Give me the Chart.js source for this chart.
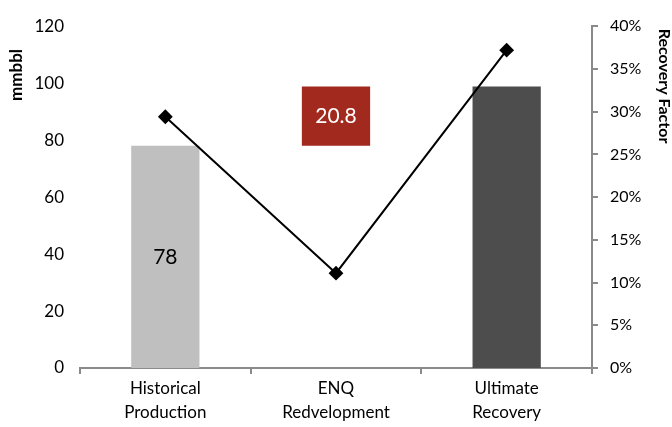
<!DOCTYPE html>
<html>
<head>
<meta charset="utf-8">
<script src="https://cdn.jsdelivr.net/npm/chart.js@4"></script>
<style>
  html, body { margin: 0; padding: 0; background: #ffffff; }
  #wrap { width: 672px; height: 427px; }
</style>
</head>
<body>
<div id="wrap"><canvas id="chart" width="672" height="427"></canvas></div>
<script>
// Waterfall of recoverable volumes (mmbbl) with recovery factor on the right axis
const categories = [["Historical", "Production"], ["ENQ", "Redvelopment"], ["Ultimate", "Recovery"]];
const historical = 78;
const redevelopment = 20.8;
const ultimate = 98.8;
const recoveryFactor = [29.4, 11.1, 37.2];
const leftTicks = [0, 20, 40, 60, 80, 100, 120];
const rightTicks = [0, 5, 10, 15, 20, 25, 30, 35, 40];

const barRanges = [[0, historical], [historical, historical + redevelopment], [0, ultimate]];
const barLabels = [String(historical), redevelopment.toFixed(1), null];
const barColors = ["#bfbfbf", "#a2291e", "#4d4d4d"];
const labelColors = ["#000000", "#ffffff", null];

const FONT = "Lato, 'Open Sans', sans-serif";
const AXIS_GRAY = "#8a8a8a";

// value labels centred inside the bars
const barValueLabels = {
  id: "barValueLabels",
  afterDatasetsDraw(chart) {
    const ctx = chart.ctx;
    const meta = chart.getDatasetMeta(1);
    ctx.save();
    ctx.font = "21px " + FONT;
    ctx.textAlign = "center";
    ctx.textBaseline = "middle";
    meta.data.forEach((bar, i) => {
      if (!barLabels[i]) return;
      const p = bar.getProps(["x", "y", "base"], true);
      ctx.fillStyle = labelColors[i];
      ctx.fillText(barLabels[i], p.x, (p.y + p.base) / 2);
    });
    ctx.restore();
  }
};

const axisTitles = {
  id: "axisTitles",
  afterDraw(chart) {
    const ctx = chart.ctx;
    ctx.save();
    ctx.fillStyle = "#000000";
    ctx.font = "bold 17px " + FONT;
    ctx.textAlign = "center";
    ctx.textBaseline = "middle";
    ctx.translate(17, 75);
    ctx.rotate(-Math.PI / 2);
    ctx.fillText("mmbbl", 0, 0);
    ctx.restore();

    ctx.save();
    ctx.fillStyle = "#000000";
    ctx.font = "bold 16px " + FONT;
    ctx.textAlign = "center";
    ctx.textBaseline = "middle";
    ctx.translate(664, 86);
    ctx.rotate(Math.PI / 2);
    ctx.fillText("Recovery Factor", 0, 0);
    ctx.restore();
  }
};

new Chart(document.getElementById("chart"), {
  data: {
    labels: categories,
    datasets: [
      {
        type: "line",
        data: recoveryFactor,
        yAxisID: "y1",
        borderColor: "#000000",
        borderWidth: 2,
        pointStyle: "rectRot",
        pointRadius: 6,
        pointBackgroundColor: "#000000",
        pointBorderColor: "#000000",
        tension: 0,
        order: 0
      },
      {
        type: "bar",
        data: barRanges,
        yAxisID: "y",
        backgroundColor: barColors,
        borderWidth: 0,
        categoryPercentage: 1,
        barPercentage: 0.4,
        order: 1
      }
    ]
  },
  options: {
    responsive: false,
    animation: false,
    layout: { padding: { top: 20, left: 0, right: 0, bottom: 0 } },
    plugins: { legend: { display: false }, tooltip: { enabled: false } },
    scales: {
      x: {
        offset: true,
        grid: {
          offset: true,
          drawOnChartArea: false,
          drawTicks: true,
          tickLength: 6,
          color: AXIS_GRAY,
          lineWidth: 2
        },
        border: { display: true, color: AXIS_GRAY, width: 2 },
        ticks: {
          color: "#000000",
          font: { family: FONT, size: 17, lineHeight: 1.42 },
          padding: 2,
          maxRotation: 0
        },
        afterFit(scale) { scale.height = 59; }
      },
      y: {
        position: "left",
        min: 0,
        max: 120,
        afterBuildTicks(scale) { scale.ticks = leftTicks.map(v => ({ value: v })); },
        grid: { display: false, drawTicks: false },
        border: { display: false },
        ticks: {
          color: "#000000",
          font: { family: FONT, size: 17 },
          padding: 16
        },
        afterFit(scale) { scale.width = 80; }
      },
      y1: {
        position: "right",
        min: 0,
        max: 40,
        afterBuildTicks(scale) { scale.ticks = rightTicks.map(v => ({ value: v })); },
        grid: {
          drawOnChartArea: false,
          drawTicks: true,
          tickLength: 6,
          color: AXIS_GRAY,
          lineWidth: 2
        },
        border: { display: true, color: AXIS_GRAY, width: 2 },
        ticks: {
          color: "#000000",
          font: { family: FONT, size: 16 },
          padding: 12,
          callback: v => v + "%"
        },
        afterFit(scale) { scale.width = 80; }
      }
    }
  },
  plugins: [barValueLabels, axisTitles]
});
</script>
</body>
</html>
